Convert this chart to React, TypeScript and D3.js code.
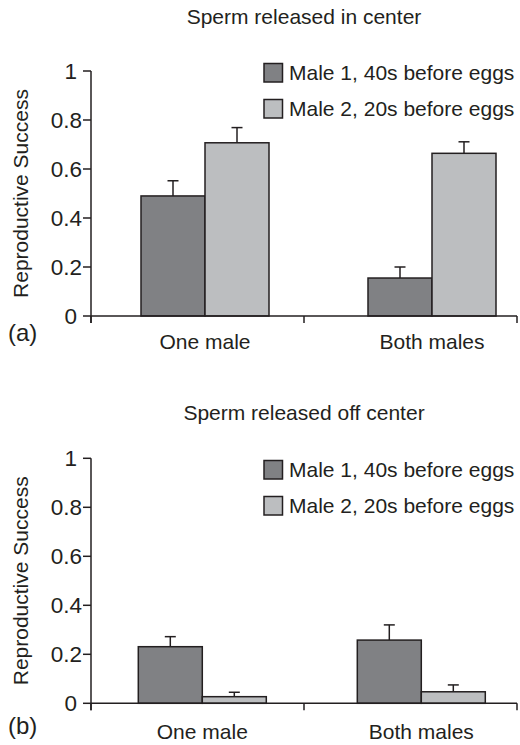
import React from "react";
import * as d3 from "d3";

const categories = ["One male", "Both males"];
const seriesNames = ["Male 1, 40s before eggs", "Male 2, 20s before eggs"];
const seriesColors = ["#808184", "#bcbec0"];

const centerMale1 = [0.49, 0.155];
const centerMale1Err = [0.062, 0.045];
const centerMale2 = [0.707, 0.664];
const centerMale2Err = [0.062, 0.047];

const offMale1 = [0.231, 0.258];
const offMale1Err = [0.041, 0.062];
const offMale2 = [0.027, 0.047];
const offMale2Err = [0.018, 0.028];

const yTicks = [0, 0.2, 0.4, 0.6, 0.8, 1];

const FONT = "'Liberation Sans', Arial, Helvetica, sans-serif";
const INK = "#231f20";
const FS = 21;

type Layout = {
  yTop: number;
  yBottom: number;
  titleY: number;
  legendY: number[];
  xLabelY: number;
  tagY: number;
  groupCenters: number[];
};

function Panel({
  title,
  tag,
  values,
  errors,
  layout,
}: {
  title: string;
  tag: string;
  values: number[][];
  errors: number[][];
  layout: Layout;
}) {
  const xAxisLeft = 91;
  const xAxisRight = 517;
  const x = d3.scaleBand<string>().domain(categories).range([xAxisLeft, xAxisRight]).padding(0);
  const centers = d3.scalePoint<string>().domain(categories).range([layout.groupCenters[0], layout.groupCenters[1]]);
  const inner = d3.scaleBand<string>().domain(seriesNames).range([-64, 64]).padding(0);
  const y = d3.scaleLinear().domain([0, 1]).range([layout.yBottom, layout.yTop]);
  const fmt = d3.format("~g");
  const xTickPositions = [...categories.map((c) => x(c)!), x(categories[categories.length - 1])! + x.bandwidth()];

  return (
    <g>
      <text x={304} y={layout.titleY} textAnchor="middle" fontSize={FS} fill={INK} fontFamily={FONT}>
        {title}
      </text>
      {categories.map((c, ci) =>
        seriesNames.map((s, si) => {
          const v = values[si][ci];
          const e = errors[si][ci];
          const bx = centers(c)! + inner(s)!;
          const cx = bx + inner.bandwidth() / 2;
          return (
            <g key={c + s}>
              <line x1={cx} x2={cx} y1={y(v)} y2={y(v + e)} stroke={INK} strokeWidth={1.5} />
              <line x1={cx - 5.5} x2={cx + 5.5} y1={y(v + e)} y2={y(v + e)} stroke={INK} strokeWidth={1.5} />
              <rect
                x={bx}
                y={y(v)}
                width={inner.bandwidth()}
                height={y(0) - y(v)}
                fill={seriesColors[si]}
                stroke={INK}
                strokeWidth={1.5}
              />
            </g>
          );
        })
      )}
      <line x1={xAxisLeft} x2={xAxisLeft} y1={y(1)} y2={y(0) + 7} stroke={INK} strokeWidth={1.5} />
      {yTicks.map((t) => (
        <g key={t}>
          <line x1={xAxisLeft - 8} x2={xAxisLeft} y1={y(t)} y2={y(t)} stroke={INK} strokeWidth={1.5} />
          <text
            x={Number.isInteger(t) ? xAxisLeft - 14 : xAxisLeft - 9}
            y={y(t)}
            dy="0.36em"
            textAnchor="end"
            fontSize={22.5}
            fill={INK}
            fontFamily={FONT}
          >
            {fmt(t)}
          </text>
        </g>
      ))}
      <line x1={xAxisLeft} x2={xAxisRight} y1={y(0)} y2={y(0)} stroke={INK} strokeWidth={1.5} />
      {xTickPositions.map((p, i) => (
        <line key={i} x1={p} x2={p} y1={y(0)} y2={y(0) + 7} stroke={INK} strokeWidth={1.5} />
      ))}
      {categories.map((c) => (
        <text key={c} x={centers(c)!} y={layout.xLabelY} textAnchor="middle" fontSize={FS} fill={INK} fontFamily={FONT}>
          {c}
        </text>
      ))}
      <text
        transform={`translate(28,${(y(0) + y(1)) / 2}) rotate(-90)`}
        textAnchor="middle"
        fontSize={FS}
        fill={INK}
        fontFamily={FONT}
      >
        Reproductive Success
      </text>
      <text x={8} y={layout.tagY} fontSize={24} fill={INK} fontFamily={FONT}>
        {tag}
      </text>
      {seriesNames.map((s, si) => (
        <g key={s}>
          <rect
            x={264}
            y={layout.legendY[si]}
            width={18.5}
            height={18.5}
            fill={seriesColors[si]}
            stroke={INK}
            strokeWidth={1.5}
          />
          <text x={289} y={layout.legendY[si] + 16.5} fontSize={FS} fill={INK} fontFamily={FONT}>
            {s}
          </text>
        </g>
      ))}
    </g>
  );
}

export default function App() {
  return (
    <svg
      width={520}
      height={745}
      style={{ position: "absolute", left: 0, top: 0, background: "#fff" }}
    >
      <rect width={520} height={745} fill="#fff" />
      <Panel
        title="Sperm released in center"
        tag="(a)"
        values={[centerMale1, centerMale2]}
        errors={[centerMale1Err, centerMale2Err]}
        layout={{
          yTop: 71,
          yBottom: 316,
          titleY: 24,
          legendY: [63.5, 99.5],
          xLabelY: 349,
          tagY: 341,
          groupCenters: [205, 432],
        }}
      />
      <Panel
        title="Sperm released off center"
        tag="(b)"
        values={[offMale1, offMale2]}
        errors={[offMale1Err, offMale2Err]}
        layout={{
          yTop: 458.3,
          yBottom: 703.3,
          titleY: 420,
          legendY: [460.5, 496.5],
          xLabelY: 739,
          tagY: 734,
          groupCenters: [202.3, 421.3],
        }}
      />
    </svg>
  );
}
